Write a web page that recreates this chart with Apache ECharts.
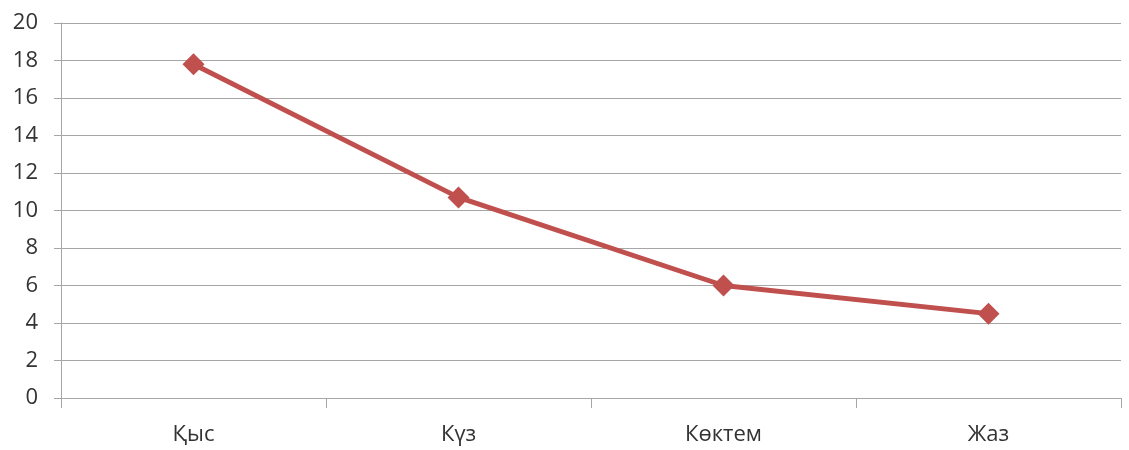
<!DOCTYPE html>
<html>
<head>
<meta charset="utf-8">
<script src="https://cdn.jsdelivr.net/npm/echarts@6/dist/echarts.min.js"></script>
<style>
  html, body { margin: 0; padding: 0; background: #fff; }
  #chart { width: 1129px; height: 450px; }
</style>
</head>
<body>
<div id="chart"></div>
<script>
// Seasons and their values
const seasons = ['Қыс', 'Күз', 'Көктем', 'Жаз'];
const values = [17.8, 10.7, 6.0, 4.5];

const gridColor = '#a6a6a6';
const textColor = '#333333';
const lineColor = '#c0504d';
const fontFamily = '"Open Sans", "Noto Sans", sans-serif';

const chart = echarts.init(document.getElementById('chart'));
chart.setOption({
  animation: false,
  backgroundColor: '#fff',
  grid: { left: 61, right: 8, top: 23, bottom: 52, containLabel: false },
  xAxis: {
    type: 'category',
    data: seasons,
    boundaryGap: true,
    axisLine: { show: true, lineStyle: { color: gridColor, width: 1 } },
    axisTick: { show: true, length: 10, lineStyle: { color: gridColor } },
    axisLabel: { color: textColor, fontSize: 22, fontFamily: fontFamily, margin: 26 },
    splitLine: { show: false }
  },
  yAxis: {
    type: 'value',
    min: 0,
    max: 20,
    interval: 2,
    axisLine: { show: true, lineStyle: { color: gridColor, width: 1 } },
    axisTick: { show: true, length: 7, lineStyle: { color: gridColor } },
    axisLabel: { color: textColor, fontSize: 22, fontFamily: fontFamily, margin: 23 },
    splitLine: { show: true, lineStyle: { color: gridColor, width: 1 } }
  },
  series: [{
    type: 'line',
    data: values,
    symbol: 'diamond',
    symbolSize: 22,
    lineStyle: { color: lineColor, width: 5 },
    itemStyle: { color: lineColor },
    label: { show: false }
  }]
});
</script>
</body>
</html>
